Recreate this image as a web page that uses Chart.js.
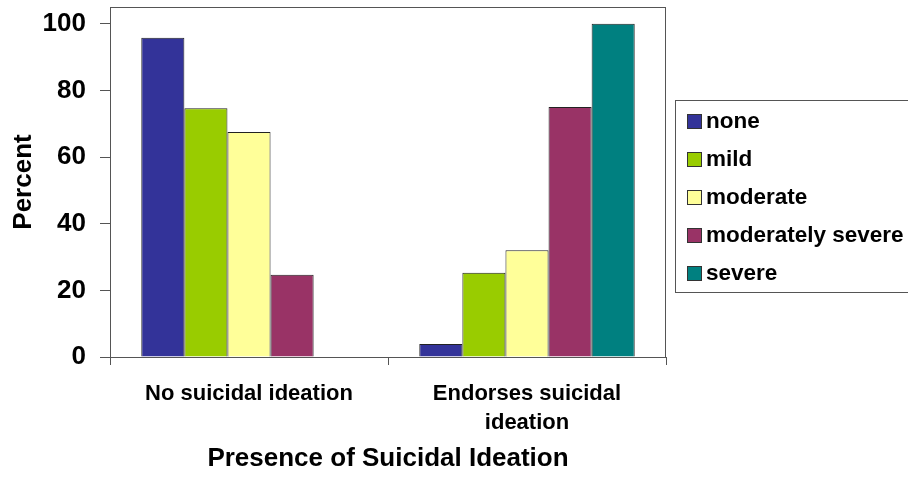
<!DOCTYPE html>
<html>
<head>
<meta charset="utf-8">
<script src="https://cdn.jsdelivr.net/npm/chart.js@4/dist/chart.umd.min.js"></script>
<style>
  html, body { margin: 0; padding: 0; background: #ffffff; }
  canvas { display: block; }
</style>
</head>
<body>
<canvas id="chart" width="908" height="485"></canvas>
<script>
// Share of respondents (%) by depression severity, split by suicidal ideation
const categories = ['No suicidal ideation', ['Endorses suicidal', 'ideation']];
const seriesNames = ['none', 'mild', 'moderate', 'moderately severe', 'severe'];
const noneValues = [95.8, 3.9];
const mildValues = [74.6, 25.3];
const moderateValues = [67.5, 32.0];
const moderatelySevereValues = [24.7, 75.0];
const severeValues = [0, 100];
const yTickValues = [0, 20, 40, 60, 80, 100];
const seriesColors = ['#333399', '#99CC00', '#FFFF99', '#993366', '#008080'];

const FONT_FAMILY = '"Liberation Sans", Arial, Helvetica, sans-serif';
const AXIS_GRAY = '#555555';

const seriesValues = [noneValues, mildValues, moderateValues, moderatelySevereValues, severeValues];

// Frame around the plotting area
const plotFrame = {
  id: 'plotFrame',
  afterDatasetsDraw(chart) {
    const { ctx, chartArea: a } = chart;
    ctx.save();
    ctx.strokeStyle = AXIS_GRAY;
    ctx.lineWidth = 1;
    ctx.strokeRect(Math.round(a.left) + 0.5, Math.round(a.top) + 0.5,
                   Math.round(a.right - a.left) - 1, Math.round(a.bottom - a.top));
    ctx.restore();
  }
};

// Boxed legend on the right, built from the datasets
const boxedLegend = {
  id: 'boxedLegend',
  afterDraw(chart) {
    const ctx = chart.ctx;
    ctx.save();
    ctx.strokeStyle = AXIS_GRAY;
    ctx.lineWidth = 1;
    ctx.strokeRect(675.5, 100.5, 240, 192);
    ctx.font = 'bold 22.5px ' + FONT_FAMILY;
    ctx.textBaseline = 'middle';
    ctx.textAlign = 'left';
    chart.data.datasets.forEach((ds, i) => {
      const cy = 121 + i * 38;
      ctx.fillStyle = ds.backgroundColor;
      ctx.fillRect(687, cy - 7, 15, 15);
      ctx.strokeStyle = '#333333';
      ctx.strokeRect(687.5, cy - 6.5, 14, 14);
      ctx.fillStyle = '#000000';
      ctx.fillText(ds.label, 706, cy + 1);
    });
    ctx.restore();
  }
};

new Chart(document.getElementById('chart'), {
  type: 'bar',
  data: {
    labels: categories,
    datasets: seriesNames.map((name, i) => ({
      label: name,
      data: seriesValues[i],
      backgroundColor: seriesColors[i],
      borderColor: '#222222',
      borderWidth: 1,
      categoryPercentage: 0.775,
      barPercentage: 1.0
    }))
  },
  options: {
    responsive: false,
    animation: false,
    events: [],
    layout: { padding: { left: 0, top: 7, right: 242, bottom: 0 } },
    plugins: {
      legend: { display: false },
      tooltip: { enabled: false }
    },
    scales: {
      x: {
        grid: {
          display: true,
          offset: true,
          drawOnChartArea: false,
          drawTicks: true,
          tickLength: 8,
          color: AXIS_GRAY,
          tickColor: AXIS_GRAY
        },
        border: { display: true, color: AXIS_GRAY, width: 1 },
        ticks: {
          color: '#000000',
          padding: 15,
          maxRotation: 0,
          autoSkip: false,
          font: { family: FONT_FAMILY, size: 22, weight: 'bold', lineHeight: 1.3 }
        },
        title: {
          display: true,
          text: 'Presence of Suicidal Ideation',
          color: '#000000',
          padding: { top: 0, bottom: 11 },
          font: { family: FONT_FAMILY, size: 26, weight: 'bold', lineHeight: 1.2 }
        },
        afterFit(scale) {
          scale.height = 128;
          scale.paddingLeft = 0;
          scale.paddingRight = 0;
        }
      },
      y: {
        min: 0,
        max: 105,
        grid: {
          display: true,
          drawOnChartArea: false,
          drawTicks: true,
          tickLength: 10,
          color: AXIS_GRAY,
          tickColor: AXIS_GRAY
        },
        border: { display: true, color: AXIS_GRAY, width: 1 },
        ticks: {
          color: '#000000',
          padding: 14,
          font: { family: FONT_FAMILY, size: 26, weight: 'bold' }
        },
        afterBuildTicks(scale) {
          scale.ticks = yTickValues.map(v => ({ value: v }));
        },
        title: {
          display: true,
          text: 'Percent',
          color: '#000000',
          padding: { top: 8, bottom: 0 },
          font: { family: FONT_FAMILY, size: 26, weight: 'bold', lineHeight: 1.2 }
        },
        afterFit(scale) {
          scale.width = 110;
          scale.paddingTop = 0;
          scale.paddingBottom = 0;
        }
      }
    }
  },
  plugins: [plotFrame, boxedLegend]
});
</script>
</body>
</html>
